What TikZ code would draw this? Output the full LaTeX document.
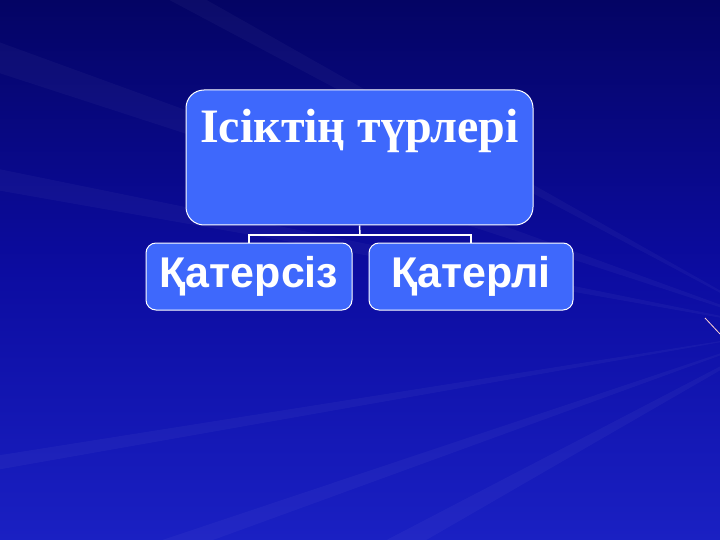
\documentclass[tikz,border=0pt]{standalone}
\usepackage{fontspec}
\setmainfont{Liberation Serif}
\setsansfont{Liberation Sans}
\definecolor{bgdark}{RGB}{4,4,100}
\definecolor{bgmid}{RGB}{12,12,160}
\definecolor{bglight}{RGB}{26,32,195}
\definecolor{boxfill}{RGB}{62,104,252}
\tikzset{
  rootbox/.style={shape=rectangle, rounded corners=18pt, draw=white, fill=boxfill,
    line width=1pt, minimum width=347pt, minimum height=135pt, text=white,
    font=\rmfamily\bfseries\fontsize{48}{52}\selectfont, text depth=64pt, inner sep=0pt},
  kindbox/.style={shape=rectangle, rounded corners=10pt, draw=white, fill=boxfill,
    line width=1pt, minimum height=67pt, text=white,
    font=\sffamily\bfseries\fontsize{43}{48}\selectfont, inner sep=0pt},
  ray/.style={fill=white, fill opacity=0.035, draw=none}
}
\begin{document}
\begin{tikzpicture}[x=1pt, y=-1pt]
	
	\useasboundingbox (0,0) rectangle (720,540);
	\shade[shading angle=135, top color=bgdark, bottom color=bglight, middle color=bgmid] (0,0) rectangle (720,540);
	\foreach \a/\b in {150/155, 160/163, 170/172, 190/193, 198/202, 208/211}
		\fill[ray] (790,330) -- ++(\a:900) -- ++(\b:900) -- cycle;
	\draw[color=pink!70!white, line width=0.8pt] (705,318) -- (720,334);
	
	\node[rootbox] (root) at (359.5,157.5) {Ісіктің түрлері};
	\node[kindbox, minimum width=206pt] (benign) at (249,276.5) {Қатерсіз};
	\node[kindbox, minimum width=204pt] (malign) at (471,276.5) {Қатерлі};
	\coordinate (bus) at (360,235);
	
	\draw[white, line width=1.5pt] (root.south) -- (bus);
	\draw[white, line width=1.5pt] (benign.north) |- (bus) -| (malign.north);
\end{tikzpicture}
\end{document}
